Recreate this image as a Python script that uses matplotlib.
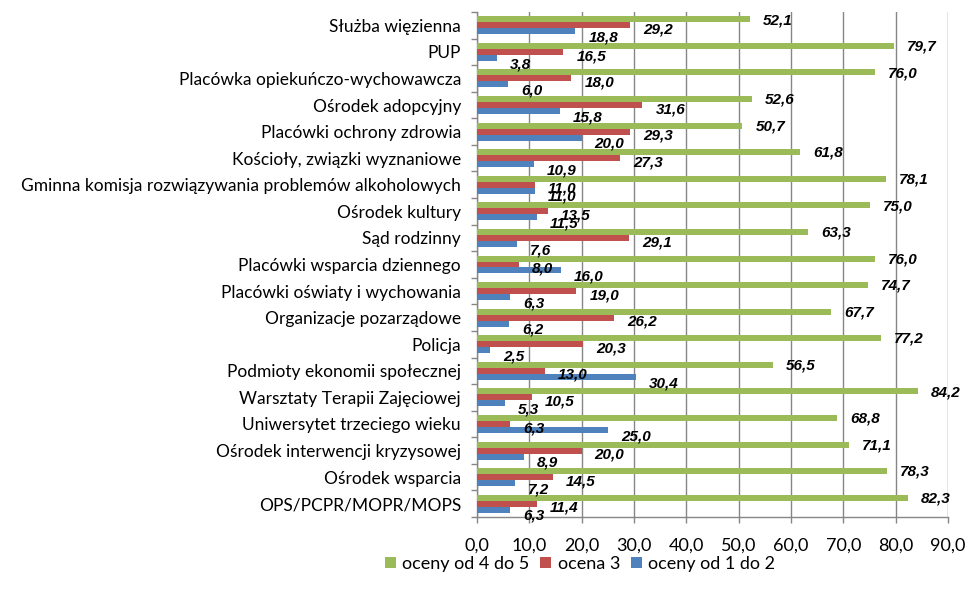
import matplotlib
matplotlib.use("Agg")
import matplotlib.pyplot as plt
import numpy as np

plt.rcParams['font.family'] = ['Lato', 'DejaVu Sans']

categories = [
    "Służba więzienna",
    "PUP",
    "Placówka opiekuńczo-wychowawcza",
    "Ośrodek adopcyjny",
    "Placówki ochrony zdrowia",
    "Kościoły, związki wyznaniowe",
    "Gminna komisja rozwiązywania problemów alkoholowych",
    "Ośrodek kultury",
    "Sąd rodzinny",
    "Placówki wsparcia dziennego",
    "Placówki oświaty i wychowania",
    "Organizacje pozarządowe",
    "Policja",
    "Podmioty ekonomii społecznej",
    "Warsztaty Terapii Zajęciowej",
    "Uniwersytet trzeciego wieku",
    "Ośrodek interwencji kryzysowej",
    "Ośrodek wsparcia",
    "OPS/PCPR/MOPR/MOPS",
]
oceny_4_5 = [52.1, 79.7, 76.0, 52.6, 50.7, 61.8, 78.1, 75.0, 63.3, 76.0,
             74.7, 67.7, 77.2, 56.5, 84.2, 68.8, 71.1, 78.3, 82.3]
ocena_3 = [29.2, 16.5, 18.0, 31.6, 29.3, 27.3, 11.0, 13.5, 29.1, 8.0,
           19.0, 26.2, 20.3, 13.0, 10.5, 6.3, 20.0, 14.5, 11.4]
oceny_1_2 = [18.8, 3.8, 6.0, 15.8, 20.0, 10.9, 11.0, 11.5, 7.6, 16.0,
             6.3, 6.2, 2.5, 30.4, 5.3, 25.0, 8.9, 7.2, 6.3]
series_names = ["oceny od 4 do 5", "ocena 3", "oceny od 1 do 2"]
xticks = [0, 10, 20, 30, 40, 50, 60, 70, 80, 90]

colors = ["#9BBB59", "#C0504D", "#4F81BD"]
fig = plt.figure(figsize=(9.8, 6.0), dpi=100)
ax = fig.add_axes([477/980, 1-517/600, (948-477)/980, (517-12)/600])

y = np.arange(len(categories))
h = 0.225
offsets = [-h, 0, h]
label_dy = [-0.5, -3.0, -4.5]  # points
for vals, off, c, name, dy in zip([oceny_4_5, ocena_3, oceny_1_2], offsets, colors, series_names, label_dy):
    bars = ax.barh(y + off, vals, height=h, color=c, label=name, zorder=3)
    for b, v in zip(bars, vals):
        ax.annotate(f"{v:.1f}".replace(".", ","),
                    xy=(b.get_width(), b.get_y() + b.get_height()/2),
                    xytext=(9.4, dy), textcoords="offset points",
                    ha="left", va="center", fontsize=11,
                    fontstyle="italic", fontweight="bold",
                    family=["Liberation Sans", "DejaVu Sans"], color="black",
                    zorder=5, annotation_clip=False)

ax.set_xlim(0, 90)
ax.set_ylim(len(categories) - 0.5, -0.5)
ax.set_xticks(xticks)
ax.set_xticklabels([f"{t:.1f}".replace(".", ",") for t in xticks], fontsize=13)
ax.set_yticks(y)
ax.set_yticklabels(categories, fontsize=12.5)
ax.set_yticks(np.arange(-0.5, len(categories), 1.0), minor=True)
ax.tick_params(axis="y", which="major", length=0, pad=11.5)
ax.tick_params(axis="y", which="minor", length=4, color="#868686", width=1)
ax.tick_params(axis="x", which="major", length=4, color="#868686", width=1, pad=11)

ax.grid(axis="x", color="#868686", linewidth=1, zorder=0)
for s in ["top", "right"]:
    ax.spines[s].set_visible(False)
for s in ["left", "bottom"]:
    ax.spines[s].set_color("#868686")
    ax.spines[s].set_linewidth(1)

leg = fig.legend(loc="center", bbox_to_anchor=(580/980, 1-564/600), ncol=3,
                 frameon=False, fontsize=13, handlelength=0.6, handleheight=0.6,
                 handletextpad=0.35, columnspacing=0.6, borderpad=0)

fig.savefig("out.png", dpi=100)
